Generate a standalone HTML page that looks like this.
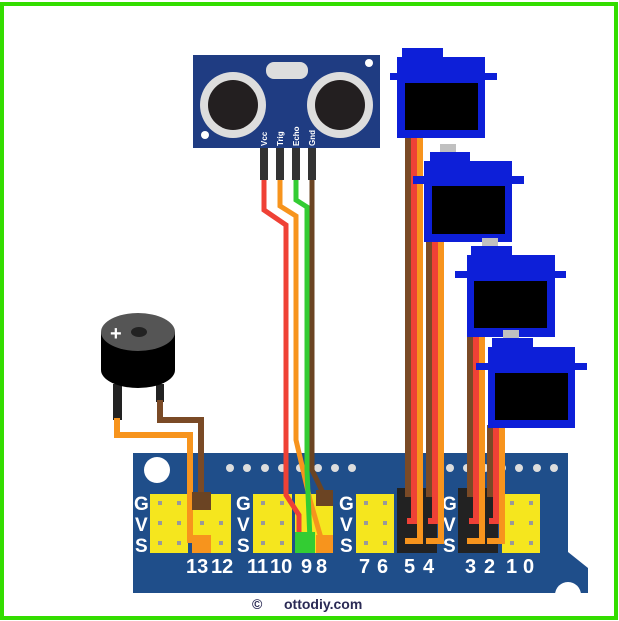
<!DOCTYPE html>
<html><head><meta charset="utf-8"><style>
html,body{margin:0;padding:0;background:#fff;width:619px;height:621px;overflow:hidden}
svg{display:block}
text{font-family:"Liberation Sans",sans-serif;font-weight:bold}
</style></head><body>
<svg width="619" height="621" viewBox="0 0 619 621" xmlns="http://www.w3.org/2000/svg">
<rect x="2" y="4" width="614" height="614" fill="none" stroke="#33dd00" stroke-width="4"/>

<!-- board -->
<path d="M133 453 H568 V552 L588 568 V593 H133 Z" fill="#1f4e8a"/>
<circle cx="568" cy="595" r="13" fill="#fff"/>
<circle cx="157" cy="470" r="13" fill="#fff"/>
<g fill="#ddd">
<circle cx="230" cy="468" r="4"/><circle cx="247" cy="468" r="4"/><circle cx="265" cy="468" r="4"/><circle cx="282" cy="468" r="4"/><circle cx="300" cy="468" r="4"/><circle cx="318" cy="468" r="4"/><circle cx="335" cy="468" r="4"/><circle cx="352" cy="468" r="4"/>
<circle cx="450" cy="468" r="4"/><circle cx="467" cy="468" r="4"/><circle cx="485" cy="468" r="4"/><circle cx="502" cy="468" r="4"/><circle cx="519" cy="468" r="4"/><circle cx="537" cy="468" r="4"/><circle cx="554" cy="468" r="4"/>
</g>
<!-- headers -->
<g fill="#f5e61e">
<rect x="150" y="494" width="38" height="59"/><rect x="192" y="494" width="39" height="59"/>
<rect x="253" y="494" width="39" height="59"/><rect x="295" y="494" width="38" height="59"/>
<rect x="356" y="494" width="38" height="59"/><rect x="502" y="494" width="38" height="59"/>
</g>
<rect x="397" y="488" width="40" height="65" fill="#222"/>
<rect x="458" y="488" width="40" height="65" fill="#222"/>
<g fill="#999">
<rect x="158" y="501" width="4" height="4"/><rect x="177" y="501" width="4" height="4"/><rect x="158" y="521" width="4" height="4"/><rect x="177" y="521" width="4" height="4"/><rect x="158" y="541" width="4" height="4"/><rect x="177" y="541" width="4" height="4"/>
<rect x="219" y="521" width="4" height="4"/><rect x="219" y="541" width="4" height="4"/><rect x="200" y="521" width="4" height="4"/>
<rect x="261" y="501" width="4" height="4"/><rect x="280" y="501" width="4" height="4"/><rect x="261" y="521" width="4" height="4"/><rect x="280" y="521" width="4" height="4"/><rect x="261" y="541" width="4" height="4"/><rect x="280" y="541" width="4" height="4"/>
<rect x="364" y="501" width="4" height="4"/><rect x="383" y="501" width="4" height="4"/><rect x="364" y="521" width="4" height="4"/><rect x="383" y="521" width="4" height="4"/><rect x="364" y="541" width="4" height="4"/><rect x="383" y="541" width="4" height="4"/>
<rect x="510" y="501" width="4" height="4"/><rect x="529" y="501" width="4" height="4"/><rect x="510" y="521" width="4" height="4"/><rect x="529" y="521" width="4" height="4"/><rect x="510" y="541" width="4" height="4"/><rect x="529" y="541" width="4" height="4"/>
</g>
<g fill="#fff" font-size="19">
<text x="134" y="510">G</text><text x="135" y="531">V</text><text x="135" y="552">S</text>
<text x="236" y="510">G</text><text x="237" y="531">V</text><text x="237" y="552">S</text>
<text x="339" y="510">G</text><text x="340" y="531">V</text><text x="340" y="552">S</text>
<text x="442" y="510">G</text><text x="443" y="531">V</text><text x="443" y="552">S</text>
</g>
<g fill="#fff" font-size="20">
<text x="186" y="573">13</text><text x="211" y="573">12</text><text x="247" y="573">11</text><text x="270" y="573">10</text>
<text x="301" y="573">9</text><text x="316" y="573">8</text><text x="359" y="573">7</text><text x="377" y="573">6</text>
<text x="404" y="573">5</text><text x="423" y="573">4</text><text x="465" y="573">3</text><text x="484" y="573">2</text>
<text x="506" y="573">1</text><text x="523" y="573">0</text>
</g>
<text x="252" y="609" font-size="14" fill="#2a2a55">©</text>
<text x="284" y="609" font-size="14" fill="#2a2a55">ottodiy.com</text>

<!-- buzzer -->
<rect x="113" y="384" width="9" height="36" fill="#222"/>
<rect x="156" y="384" width="8" height="18" fill="#222"/>
<path d="M101 332 V370 A37 18 0 0 0 175 370 V332 Z" fill="#000"/>
<ellipse cx="138" cy="332" rx="37" ry="19" fill="#555"/>
<ellipse cx="139" cy="332" rx="8" ry="5" fill="#222"/>
<text x="110" y="340" font-size="20" fill="#fff">+</text>
<path d="M117 418 V435 H190 V540 H200" fill="none" stroke="#f7941d" stroke-width="6"/>
<path d="M160 400 V420 H201 V495" fill="none" stroke="#7a4a26" stroke-width="6"/>
<rect x="192" y="492" width="19" height="18" fill="#6b4423"/>
<rect x="192" y="535" width="19" height="18" fill="#f7941d"/>

<!-- ultrasonic -->
<rect x="193" y="55" width="187" height="93" fill="#1f3c82"/>
<circle cx="233" cy="105" r="33" fill="#ddd"/><circle cx="233" cy="105" r="25" fill="#231f20"/>
<circle cx="340" cy="105" r="33" fill="#ddd"/><circle cx="340" cy="105" r="25" fill="#231f20"/>
<rect x="266" y="62" width="42" height="17" rx="8" fill="#ddd"/>
<circle cx="369" cy="63" r="4" fill="#fff"/><circle cx="205" cy="135" r="4" fill="#fff"/>
<g fill="#fff" font-size="8">
<text transform="translate(267,146) rotate(-90)">Vcc</text>
<text transform="translate(283,146) rotate(-90)">Trig</text>
<text transform="translate(299,146) rotate(-90)">Echo</text>
<text transform="translate(315,146) rotate(-90)">Gnd</text>
</g>
<g fill="#333"><rect x="260" y="148" width="8" height="32"/><rect x="276" y="148" width="8" height="32"/><rect x="292" y="148" width="8" height="32"/><rect x="308" y="148" width="8" height="32"/></g>
<rect x="295" y="532" width="20" height="21" fill="#33cc33"/>
<rect x="316" y="535" width="17" height="18" fill="#f7941d"/>
<g fill="none" stroke-width="5" stroke-linejoin="miter">
<path d="M264 180 V210 L286 225 V495 L299 515 V532" stroke="#ef4136"/>
<path d="M280 180 V206 L296 216 V440 L310 500 L323 545" stroke="#f7941d"/>
<path d="M296 180 V200 L307 207 V470 L310 540" stroke="#33cc33"/>
<path d="M312 180 V470 L324 495" stroke="#6b4423"/>
</g>
<rect x="316" y="490" width="17" height="16" fill="#6b4423"/>

<!-- servo wires -->
<g stroke-width="6" fill="none">
<path d="M408 138 V497" stroke="#7a4a26"/><path d="M414 138 V521 H407" stroke="#ef4136"/><path d="M420 138 V541 H405" stroke="#f7941d"/>
<path d="M429 240 V497" stroke="#7a4a26"/><path d="M435 240 V521 H428" stroke="#ef4136"/><path d="M441 240 V541 H426" stroke="#f7941d"/>
<path d="M470 335 V497" stroke="#7a4a26"/><path d="M476 335 V521 H469" stroke="#ef4136"/><path d="M482 335 V541 H467" stroke="#f7941d"/>
<path d="M490 425 V497" stroke="#7a4a26"/><path d="M496 425 V521 H489" stroke="#ef4136"/><path d="M502 425 V541 H487" stroke="#f7941d"/>
</g>

<!-- servos -->
<g fill="#0d1fd8">
<rect x="402" y="48" width="41" height="10"/><rect x="397" y="57" width="88" height="81"/><rect x="390" y="73" width="107" height="7"/>
<rect x="430" y="152" width="40" height="10"/><rect x="424" y="161" width="88" height="81"/><rect x="413" y="176" width="111" height="8"/>
<rect x="471" y="246" width="41" height="10"/><rect x="467" y="255" width="88" height="82"/><rect x="455" y="271" width="111" height="7"/>
<rect x="492" y="338" width="41" height="10"/><rect x="488" y="347" width="87" height="81"/><rect x="476" y="363" width="111" height="7"/>
</g>
<g fill="#000">
<rect x="405" y="83" width="73" height="47"/><rect x="432" y="186" width="73" height="48"/>
<rect x="474" y="281" width="73" height="47"/><rect x="495" y="373" width="73" height="47"/>
</g>
<g fill="#c0c0c0"><rect x="440" y="144" width="16" height="8"/><rect x="482" y="238" width="16" height="8"/><rect x="503" y="330" width="16" height="8"/></g>
</svg>
</body></html>
